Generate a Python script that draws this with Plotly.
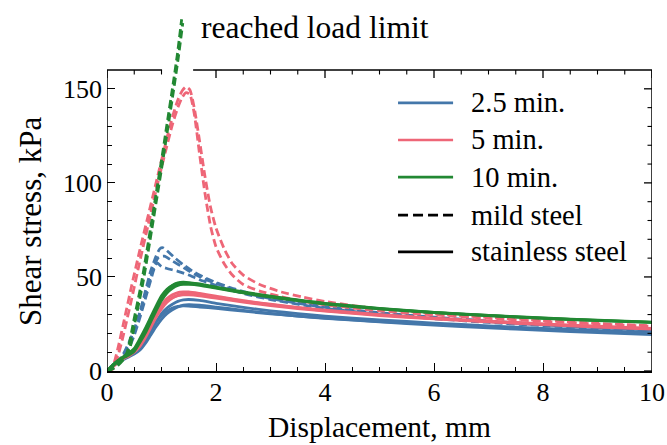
import plotly.graph_objects as go

# ---------------- data ----------------
BLUE = "#4477AA"
RED = "#EE6677"
GREEN = "#228833"

# 2.5 min, mild steel (dashed)
b_m1_x = [0, 0.1, 0.2, 0.3, 0.4, 0.5, 0.6, 0.7, 0.8, 0.9, 0.97, 1.03, 1.1, 1.25, 1.4, 1.6, 1.8, 2.0, 2.3, 2.6, 3.0, 3.5, 4, 5, 6, 7, 8, 9, 10]
b_m1_y = [0, 2, 5, 9, 15, 22, 31, 42, 53, 61, 65, 65.5, 64, 60, 56.5, 52.5, 49.5, 47, 44, 41.5, 39, 36.5, 34.2, 31, 28.6, 26.6, 24.8, 23.3, 22]
b_m2_x = [0, 0.1, 0.2, 0.3, 0.4, 0.5, 0.6, 0.7, 0.8, 0.88, 0.95, 1.05, 1.2, 1.4, 1.6, 1.8, 2.0, 2.3, 2.6, 3.0, 3.5, 4, 5, 6, 7, 8, 9, 10]
b_m2_y = [0, 1.5, 4, 8, 14, 21, 30, 40, 50, 57, 60.5, 61, 58.5, 55, 51.5, 48.8, 46.5, 43.5, 41, 38.5, 36, 33.8, 30.6, 28.2, 26.2, 24.5, 23, 21.8]
b_m3_x = [0, 0.1, 0.2, 0.3, 0.4, 0.5, 0.6, 0.7, 0.8, 0.86, 0.92, 1.0, 1.1, 1.3, 1.5, 1.7, 2.0, 2.3, 2.6, 3.0, 3.5, 4, 5, 6, 7, 8, 9, 10]
b_m3_y = [0, 1.5, 3.5, 7, 12, 19, 28, 38, 48, 54, 57.5, 55.5, 54.5, 53, 51, 48.5, 45.5, 42.8, 40.5, 38, 35.5, 33.3, 30.2, 27.8, 25.8, 24.1, 22.6, 21.4]

# 2.5 min, stainless steel (solid)
b_s1_x = [0, 0.1, 0.2, 0.3, 0.4, 0.5, 0.6, 0.7, 0.8, 0.9, 1.0, 1.1, 1.2, 1.3, 1.4, 1.5, 1.7, 2.0, 2.5, 3, 3.5, 4, 5, 6, 7, 8, 9, 10]
b_s1_y = [0, 2.5, 4.5, 6.5, 8, 9.5, 12, 16, 21, 26, 30.5, 33.5, 35.5, 37, 37.8, 38, 37.5, 36, 33.8, 32, 30.5, 29.2, 27.2, 25.5, 24, 22.7, 21.5, 20.4]
b_s2_x = [0, 0.1, 0.2, 0.3, 0.4, 0.5, 0.6, 0.7, 0.8, 0.9, 1.0, 1.1, 1.2, 1.3, 1.4, 1.5, 1.7, 2.0, 2.5, 3, 3.5, 4, 5, 6, 7, 8, 9, 10]
b_s2_y = [0, 2.5, 4.5, 6, 7.5, 9, 11, 14.5, 19, 23.5, 27.5, 30.5, 32.5, 34, 35, 35.3, 35, 34, 32.2, 30.6, 29.2, 28, 26.1, 24.4, 22.9, 21.6, 20.4, 19.4]
b_s3_x = [0, 0.1, 0.2, 0.3, 0.4, 0.5, 0.6, 0.7, 0.8, 0.9, 1.0, 1.1, 1.2, 1.3, 1.4, 1.5, 1.7, 2.0, 2.5, 3, 3.5, 4, 5, 6, 7, 8, 9, 10]
b_s3_y = [0, 3, 5, 7, 8.5, 10, 12.5, 16.5, 21.5, 26, 29.5, 32, 33.5, 34.3, 34.6, 34.5, 34, 33.3, 31.8, 30.4, 29.2, 28.1, 26.3, 24.8, 23.4, 22.2, 21.1, 20.1]

# 5 min, mild steel (dashed)
r_m1_x = [0, 0.1, 0.2, 0.3, 0.45, 0.6, 0.75, 0.9, 1.05, 1.2, 1.3, 1.38, 1.45, 1.52, 1.6, 1.7, 1.8, 1.9, 2.0, 2.15, 2.3, 2.5, 2.8, 3.2, 3.6, 4.0, 4.5, 5, 6, 7, 8, 9, 10]
r_m1_y = [0, 2, 12, 25, 45, 64, 82, 100, 118, 135, 144, 149, 151, 149.5, 140, 122, 103, 87, 76, 65, 57, 51, 46, 42, 39.2, 37, 34.8, 33, 30.4, 28.5, 26.8, 25.3, 24]
r_m2_x = [0, 0.1, 0.2, 0.3, 0.45, 0.6, 0.75, 0.9, 1.05, 1.2, 1.3, 1.38, 1.45, 1.52, 1.6, 1.7, 1.8, 1.9, 2.0, 2.15, 2.3, 2.5, 2.8, 3.2, 3.6, 4.0, 4.5, 5, 6, 7, 8, 9, 10]
r_m2_y = [0, 1, 8, 19, 38, 58, 77, 96, 114, 131, 140, 145.5, 148, 147, 137, 115, 94, 77, 66, 57, 51, 46, 42.5, 39.5, 37, 35.2, 33.5, 32, 29.8, 28, 26.4, 25, 23.8]

# 5 min, stainless steel (solid)
r_s1_x = [0, 0.1, 0.2, 0.3, 0.4, 0.5, 0.6, 0.7, 0.8, 0.9, 1.0, 1.1, 1.2, 1.3, 1.4, 1.5, 1.7, 2.0, 2.5, 3, 3.5, 4, 5, 6, 7, 8, 9, 10]
r_s1_y = [0, 2.5, 5, 7, 8.5, 10.5, 14, 19, 25, 30.5, 35, 38.5, 40.5, 41.7, 42, 42, 41.2, 39.8, 37.4, 35.5, 33.8, 32.3, 30, 28.1, 26.5, 25.1, 23.8, 22.7]
r_s2_x = [0, 0.1, 0.2, 0.3, 0.4, 0.5, 0.6, 0.7, 0.8, 0.9, 1.0, 1.1, 1.2, 1.3, 1.4, 1.5, 1.7, 2.0, 2.5, 3, 3.5, 4, 5, 6, 7, 8, 9, 10]
r_s2_y = [0, 2, 4.5, 6.5, 8, 10, 13, 17.5, 23, 28.5, 33, 36.5, 38.8, 40, 40.5, 40.5, 40, 38.8, 36.6, 34.8, 33.2, 31.8, 29.5, 27.7, 26.1, 24.7, 23.4, 22.3]
r_s3_x = [0, 0.1, 0.2, 0.3, 0.4, 0.5, 0.6, 0.7, 0.8, 0.9, 1.0, 1.1, 1.2, 1.3, 1.4, 1.5, 1.7, 2.0, 2.5, 3, 3.5, 4, 5, 6, 7, 8, 9, 10]
r_s3_y = [0, 2.5, 5, 7, 9, 11, 14.5, 19.5, 25, 30, 34, 37, 39, 40.2, 40.8, 41, 40.6, 39.4, 37.2, 35.3, 33.6, 32.1, 29.8, 27.9, 26.3, 24.9, 23.6, 22.5]

# 10 min, mild steel (dashed) - reached load limit
g_m1_x = [0, 0.1, 0.2, 0.3, 0.37, 0.5, 0.64, 0.8, 0.9, 1.0, 1.1, 1.2, 1.29, 1.37]
g_m1_y = [0, 1.5, 3.5, 6.5, 10, 28, 48, 76, 94, 112, 131, 150, 168, 187]
g_m2_x = [0, 0.1, 0.2, 0.3, 0.4, 0.52, 0.66, 0.82, 0.92, 1.02, 1.12, 1.22, 1.31, 1.39]
g_m2_y = [0, 1, 3, 6, 10, 27, 47, 75, 93, 111, 130, 149, 167, 185]

# 10 min, stainless steel (solid)
g_s1_x = [0, 0.1, 0.2, 0.3, 0.4, 0.5, 0.6, 0.7, 0.8, 0.9, 1.0, 1.1, 1.2, 1.3, 1.4, 1.5, 1.7, 2.0, 2.5, 3, 3.5, 4, 5, 6, 7, 8, 9, 10]
g_s1_y = [0, 3, 5.5, 7.5, 9, 11, 16, 21, 27, 33, 39, 43, 45.5, 46.8, 47.2, 47, 46.3, 44.6, 42, 39.8, 37.8, 36, 33.3, 31.2, 29.6, 28.2, 27, 26]
g_s2_x = [0, 0.1, 0.2, 0.3, 0.4, 0.5, 0.6, 0.7, 0.8, 0.9, 1.0, 1.1, 1.2, 1.3, 1.4, 1.5, 1.7, 2.0, 2.5, 3, 3.5, 4, 5, 6, 7, 8, 9, 10]
g_s2_y = [0, 2.5, 5, 7, 8.5, 10.5, 15, 20, 26, 32, 37.5, 41.5, 44, 45.5, 46, 46, 45.5, 44, 41.5, 39.3, 37.4, 35.6, 33, 31, 29.4, 28, 26.8, 25.8]
g_s3_x = [0, 0.1, 0.2, 0.3, 0.4, 0.5, 0.6, 0.7, 0.8, 0.9, 1.0, 1.1, 1.2, 1.3, 1.4, 1.5, 1.7, 2.0, 2.5, 3, 3.5, 4, 5, 6, 7, 8, 9, 10]
g_s3_y = [0, 3, 5.5, 7.5, 9.5, 12, 17, 22.5, 28.5, 34.5, 40, 43.5, 45.5, 46.5, 46.8, 46.7, 46, 44.3, 41.7, 39.5, 37.6, 35.8, 33.2, 31.1, 29.5, 28.1, 26.9, 25.9]

legend_labels = ["2.5 min.", "5 min.", "10 min.", "mild steel", "stainless steel"]
annotation_text = "reached load limit"
x_title = "Displacement, mm"
y_title = "Shear stress, kPa"
x_tick_vals = [0, 2, 4, 6, 8, 10]
x_minor_vals = [0.5, 1, 1.5, 2.5, 3, 3.5, 4.5, 5, 5.5, 6.5, 7, 7.5, 8.5, 9, 9.5]
y_tick_vals = [0, 50, 100, 150]
y_minor_vals = [10, 20, 30, 40, 60, 70, 80, 90, 110, 120, 130, 140]
X_MAX, Y_MAX = 10, 160

# ---------------- layout geometry ----------------
W, H = 667, 445
ML, MR, MT, MB = 107, 15, 15, 74
plot_h = H - MT - MB           # plotting area extends above the frame so the load-limit lines show
frame_h = 301                  # px height of the framed axes (0..160 kPa)
y_range_max = Y_MAX * plot_h / frame_h
plot_w = W - ML - MR

FONT = "Liberation Serif"
DASH = "8px,4px"
BLACK = "black"
TL, TW, MTL, MTW = 8, 1.3, 4.5, 1.1
SPINE = 1.5

fig = go.Figure()

series = [
    (BLUE, "dash", [(b_m1_x, b_m1_y), (b_m2_x, b_m2_y), (b_m3_x, b_m3_y)]),
    (BLUE, "solid", [(b_s1_x, b_s1_y), (b_s2_x, b_s2_y), (b_s3_x, b_s3_y)]),
    (RED, "dash", [(r_m1_x, r_m1_y), (r_m2_x, r_m2_y)]),
    (RED, "solid", [(r_s1_x, r_s1_y), (r_s2_x, r_s2_y), (r_s3_x, r_s3_y)]),
    (GREEN, "dash", [(g_m1_x, g_m1_y), (g_m2_x, g_m2_y)]),
    (GREEN, "solid", [(g_s1_x, g_s1_y), (g_s2_x, g_s2_y), (g_s3_x, g_s3_y)]),
]
for color, dash, curves in series:
    for xs, ys in curves:
        fig.add_trace(go.Scatter(
            x=xs, y=ys, mode="lines",
            line=dict(color=color, width=2.8,
                      dash=("solid" if dash == "solid" else DASH), shape="spline", smoothing=0.6),
            showlegend=False, hoverinfo="skip"))

tick_font = dict(family=FONT, size=26, color=BLACK)

fig.update_layout(
    width=W, height=H,
    margin=dict(l=ML, r=MR, t=MT, b=MB, pad=0, autoexpand=False),
    paper_bgcolor="white", plot_bgcolor="white",
    showlegend=False,
    font=dict(family=FONT, color=BLACK),
    xaxis=dict(
        range=[0, X_MAX], showline=True, linecolor=BLACK, linewidth=SPINE, mirror=False,
        ticks="inside", ticklen=TL, tickwidth=TW, tickcolor=BLACK,
        tickmode="array", tickvals=x_tick_vals, ticktext=[str(v) for v in x_tick_vals],
        minor=dict(ticks="inside", ticklen=MTL, tickwidth=MTW, tickcolor=BLACK,
                   tickmode="array", tickvals=x_minor_vals),
        showgrid=False, zeroline=False, tickfont=tick_font, automargin=False,
        ticklabelstandoff=-3,
    ),
    yaxis=dict(
        range=[0, y_range_max], showline=False, mirror=False,
        ticks="inside", ticklen=TL, tickwidth=TW, tickcolor=BLACK,
        tickmode="array", tickvals=y_tick_vals, ticktext=[str(v) for v in y_tick_vals],
        minor=dict(ticks="inside", ticklen=MTL, tickwidth=MTW, tickcolor=BLACK,
                   tickmode="array", tickvals=y_minor_vals),
        showgrid=False, zeroline=False, tickfont=tick_font, automargin=False,
        ticklabelstandoff=4,
    ),
)

# frame: left, right and interrupted top spine
spine = dict(color=BLACK, width=SPINE)
fig.add_shape(type="line", xref="x", yref="y", x0=0, x1=0, y0=0, y1=Y_MAX, line=spine, layer="above")
fig.add_shape(type="line", xref="x", yref="y", x0=X_MAX, x1=X_MAX, y0=0, y1=Y_MAX, line=spine, layer="above")
for x0, x1 in [(0, 1.01), (1.58, X_MAX)]:
    fig.add_shape(type="line", xref="x", yref="y", x0=x0, x1=x1, y0=Y_MAX, y1=Y_MAX,
                  line=spine, layer="above")

# mirrored ticks on the right and top
for v in y_tick_vals + y_minor_vals:
    ln = TL if v in y_tick_vals else MTL
    w = TW if v in y_tick_vals else MTW
    fig.add_shape(type="line", xref="x", yref="y", xsizemode="pixel", xanchor=X_MAX,
                  x0=-ln, x1=0, y0=v, y1=v, line=dict(color=BLACK, width=w), layer="above")
for v in x_tick_vals + x_minor_vals:
    if v == 1.5:
        continue  # hidden by the gap in the top spine
    ln = TL if v in x_tick_vals else MTL
    w = TW if v in x_tick_vals else MTW
    fig.add_shape(type="line", xref="x", yref="y", ysizemode="pixel", yanchor=Y_MAX,
                  y0=-ln, y1=0, x0=v, x1=v, line=dict(color=BLACK, width=w), layer="above")

# axis titles
fig.add_annotation(text=x_title, xref="paper", yref="paper", x=0.5, y=(371 - 427) / plot_h,
                   xanchor="center", yanchor="middle", showarrow=False, borderpad=0,
                   font=dict(family=FONT, size=29.5, color=BLACK))
fig.add_annotation(text=y_title, xref="paper", yref="paper", x=(30 - ML) / plot_w,
                   y=(371 - 222) / plot_h, xanchor="center", yanchor="middle", textangle=-90,
                   showarrow=False, font=dict(family=FONT, size=31, color=BLACK))

# annotation
fig.add_annotation(text=annotation_text, xref="x", yref="y", x=1.69, y=182.5,
                   xanchor="left", yanchor="middle", showarrow=False,
                   font=dict(family=FONT, size=31.5, color=BLACK))

# manual legend
leg_colors = [BLUE, RED, GREEN, BLACK, BLACK]
leg_dash = ["solid", "solid", "solid", "10px,5px", "solid"]
leg_rows_y = [142.5, 122.8, 103.1, 82.9, 63.3]
for lab, c, d, yy in zip(legend_labels, leg_colors, leg_dash, leg_rows_y):
    fig.add_shape(type="line", xref="x", yref="y", x0=5.34, x1=6.35, y0=yy, y1=yy,
                  line=dict(color=c, width=2.7, dash=d), layer="above")
    fig.add_annotation(text=lab, xref="x", yref="y", x=6.64, y=yy, xanchor="left",
                       yanchor="middle", showarrow=False,
                       font=dict(family=FONT, size=28.5, color=BLACK))

fig.write_html("out.html", config={"displayModeBar": False},
               post_script="document.body.style.margin='0px';")
